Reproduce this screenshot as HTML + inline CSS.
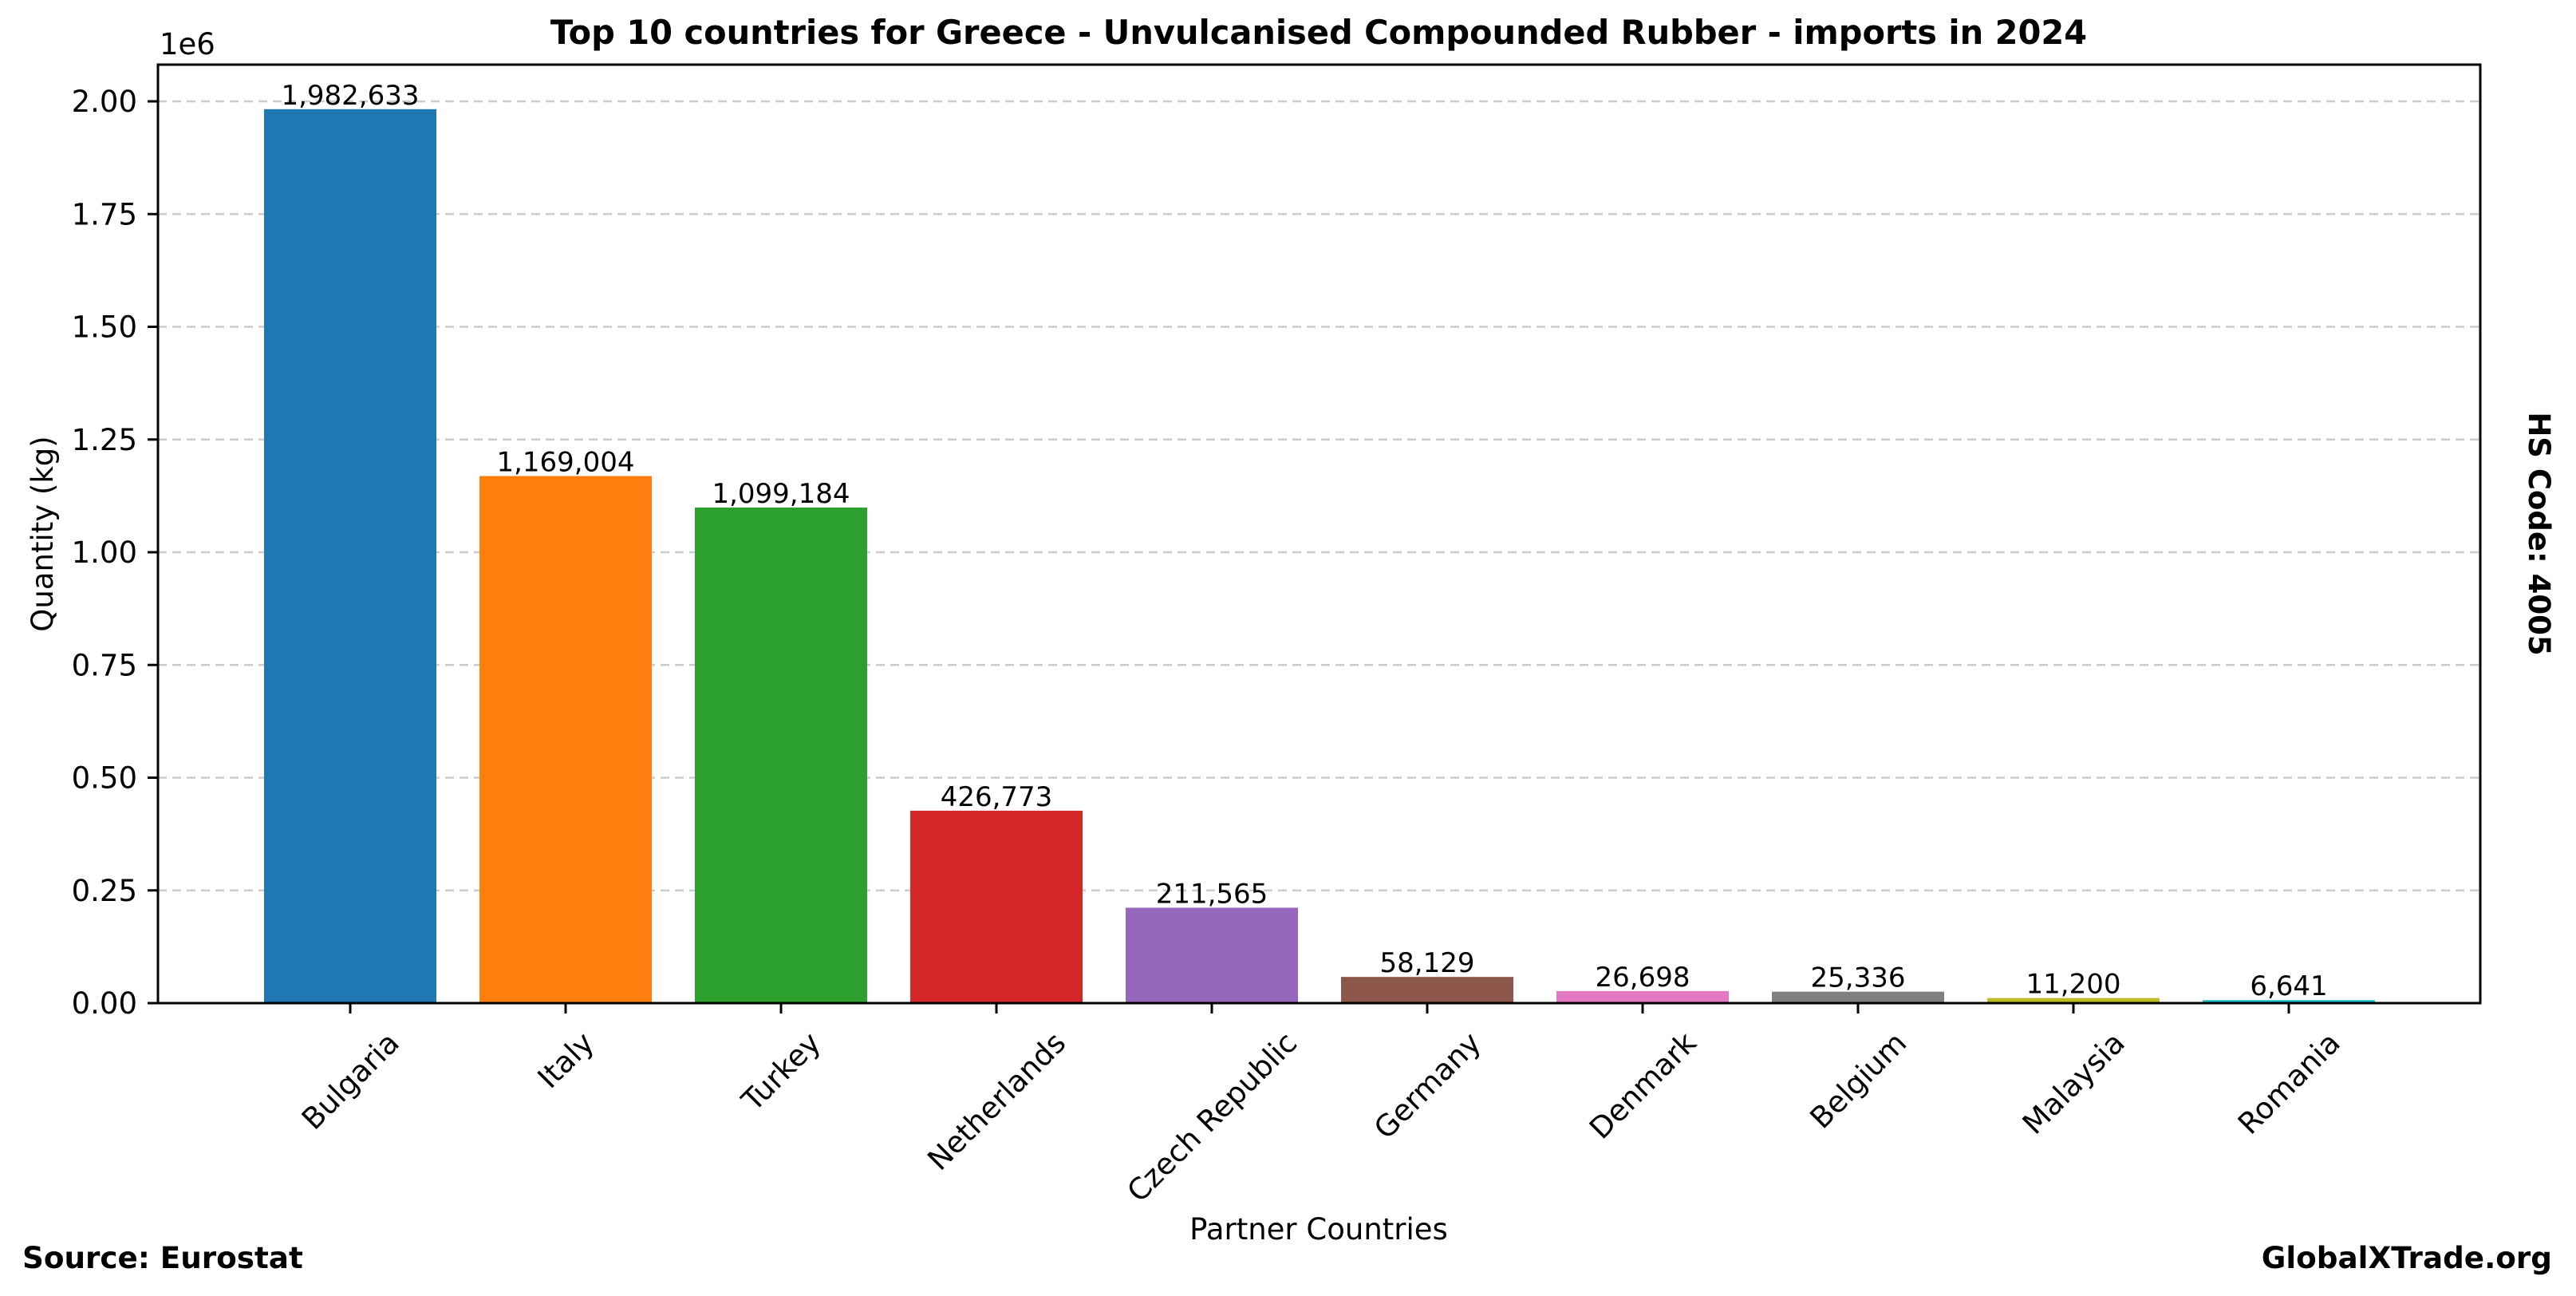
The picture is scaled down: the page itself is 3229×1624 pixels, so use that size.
<!DOCTYPE html>
<html><head><meta charset="utf-8"><style>
html,body{margin:0;padding:0;background:#fff}
svg{display:block}
text{font-family:"DejaVu Sans","Liberation Sans",sans-serif;fill:#000}
</style></head><body>
<svg id="s" width="3229" height="1624" viewBox="0 0 3229 1624" xmlns="http://www.w3.org/2000/svg">
<rect width="3229" height="1624" fill="#fff"/>
<g id="grid" stroke="#cccccc" stroke-width="2.5" stroke-dasharray="11,7"></g>
<g id="bars"></g>
<rect x="198" y="81" width="2911" height="1176" fill="none" stroke="#000" stroke-width="3"/>
<g id="ticks"></g>
<text x="200" y="68" font-size="37">1e6</text>
<text x="1653" y="55" font-size="41.5" font-weight="bold" text-anchor="middle">Top 10 countries for Greece - Unvulcanised Compounded Rubber - imports in 2024</text>
<text x="1653" y="1553" font-size="37" text-anchor="middle">Partner Countries</text>
<text transform="translate(66,669) rotate(-90)" font-size="37" text-anchor="middle">Quantity (kg)</text>
<text transform="translate(3170,669) rotate(90)" font-size="37" font-weight="bold" text-anchor="middle">HS Code: 4005</text>
<text x="28" y="1589" font-size="37.3" font-weight="bold">Source: Eurostat</text>
<text x="3199" y="1589" font-size="37.3" font-weight="bold" text-anchor="end">GlobalXTrade.org</text>
</svg>
<script>
var NS="http://www.w3.org/2000/svg";
function el(t,a,p,txt){var e=document.createElementNS(NS,t);for(var k in a)e.setAttribute(k,a[k]);if(txt!=null)e.textContent=txt;p.appendChild(e);return e;}
var y0=1257,k=565e-6;
var grid=document.getElementById('grid'),ticks=document.getElementById('ticks'),bars=document.getElementById('bars'),svg=document.getElementById('s');
for(var i=0;i<=8;i++){var v=i*0.25e6,y=y0-v*k;
 if(i>0)el('line',{x1:198,x2:3109,y1:y,y2:y},grid);
 el('line',{x1:185,x2:198,y1:y,y2:y,stroke:'#000','stroke-width':3},ticks);
 el('text',{x:172,y:y+13,'font-size':37,'text-anchor':'end'},ticks,(i*0.25).toFixed(2));}
var d=[["Bulgaria",1982633,"#1f77b4"],["Italy",1169004,"#ff7f0e"],["Turkey",1099184,"#2ca02c"],["Netherlands",426773,"#d62728"],["Czech Republic",211565,"#9467bd"],["Germany",58129,"#8c564b"],["Denmark",26698,"#e377c2"],["Belgium",25336,"#7f7f7f"],["Malaysia",11200,"#bcbd22"],["Romania",6641,"#17becf"]];
d.forEach(function(r,i){var cx=439+270*i,h=r[1]*k;
 el('rect',{x:cx-108,y:y0-h,width:216,height:h,fill:r[2]},bars);
 el('text',{x:cx,y:y0-h-6,'font-size':34,'text-anchor':'middle'},svg,r[1].toLocaleString('en-US'));
 el('line',{x1:cx,x2:cx,y1:y0,y2:y0+13,stroke:'#000','stroke-width':3},ticks);
 var t=el('text',{'font-size':37,'text-anchor':'middle'},svg,r[0]);
 var w=t.getComputedTextLength(),hh=37*0.76;
 var half=(w+hh)*0.7071/2;
 var cy=1290+half;
 t.setAttribute('transform','translate('+cx+','+cy+') rotate(-45)');
 t.setAttribute('y',13);
});
</script>
</body></html>
